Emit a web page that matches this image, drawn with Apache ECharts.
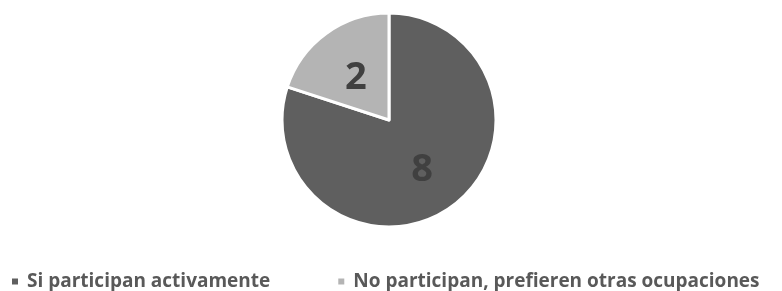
<!DOCTYPE html>
<html>
<head>
<meta charset="utf-8">
<script src="https://cdn.jsdelivr.net/npm/echarts@6/dist/echarts.min.js"></script>
<style>
  html, body { margin: 0; padding: 0; background: #fff; }
  #main { width: 782px; height: 291px; }
</style>
</head>
<body>
<div id="main"></div>
<script>
// datos del grafico
var categorias = ['Si participan activamente', 'No participan, prefieren otras ocupaciones'];
var valores = [8, 2];
var colores = ['#5f5f5f', '#b4b4b4'];

var myChart = echarts.init(document.getElementById('main'));

var datos = categorias.map(function (c, i) {
    return { name: c, value: valores[i], itemStyle: { color: colores[i] } };
});

var option = {
    animation: false,
    // leyenda abajo
    legend: {
        data: categorias,
        left: 10,
        top: 272,
        padding: 0,
        itemWidth: 8,
        itemHeight: 8,
        itemGap: 66,
        icon: 'rect',
        textStyle: {
            fontFamily: 'Open Sans, sans-serif',
            fontWeight: 'bold',
            fontSize: 19,
            color: '#595959',
            padding: [0, 0, 0, 3]
        }
    },
    series: [{
        type: 'pie',
        center: [389, 120],
        radius: 107,
        startAngle: 90,
        clockwise: true,
        data: datos,
        itemStyle: { borderColor: '#fff', borderWidth: 3 },
        label: {
            position: 'inner',
            formatter: '{c}',
            fontFamily: 'Open Sans, sans-serif',
            fontWeight: 'bold',
            fontSize: 38,
            color: '#404040',
            offset: [0, 4]
        },
        labelLine: { show: false },
        emphasis: { disabled: true }
    }]
};

myChart.setOption(option);
</script>
</body>
</html>
